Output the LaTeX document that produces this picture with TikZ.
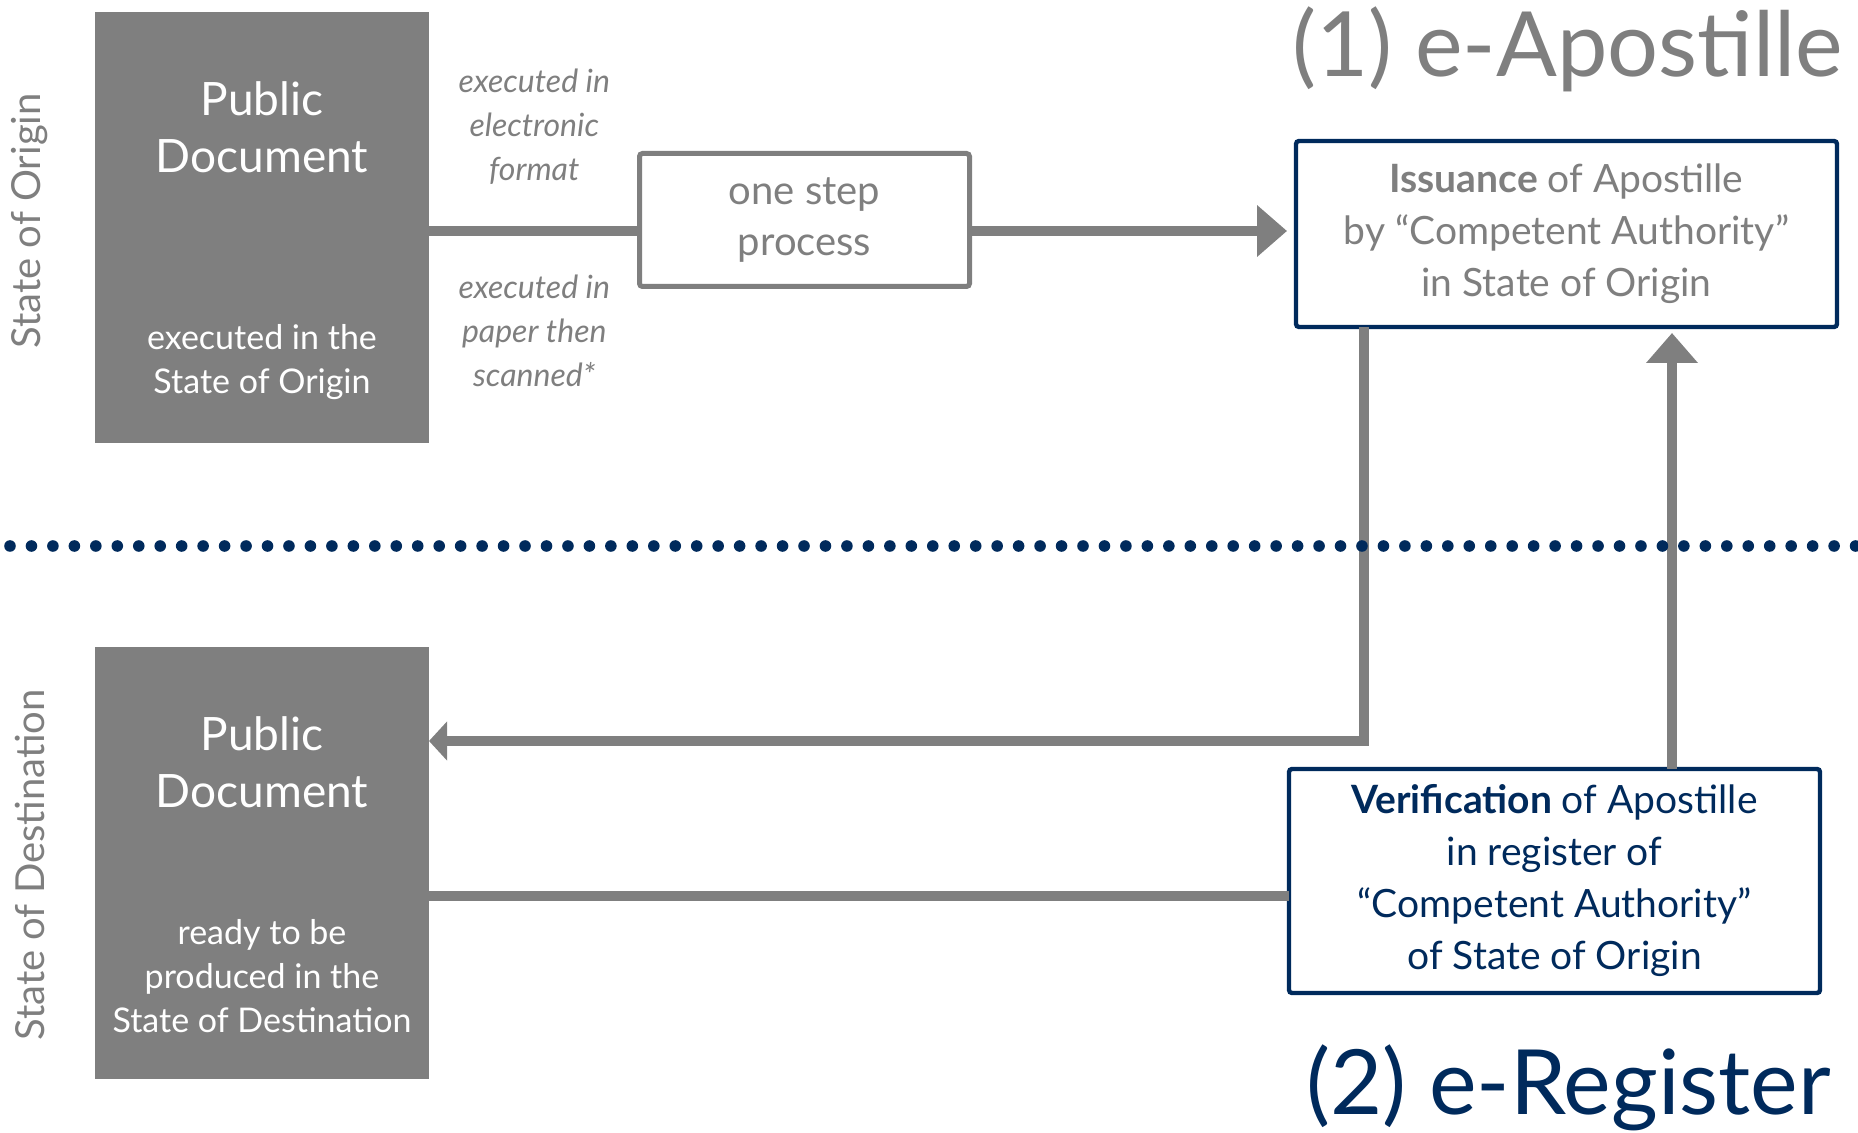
\documentclass[tikz,border=0pt]{standalone}
\usepackage{fontspec}
\setmainfont{Lato}
\usetikzlibrary{arrows.meta,positioning,calc}
\definecolor{docGray}{HTML}{7F7F7F}
\definecolor{regNavy}{HTML}{002A5C}

\begin{document}
\begin{tikzpicture}[
x=0.5pt, y=-0.5pt,
every node/.style={inner sep=0pt, outer sep=0pt},
docbox/.style={fill=docGray, minimum width=167pt, minimum height=215.5pt},
doctitle/.style={text=white, align=center, font=\fontsize{23}{28.5}\selectfont},
docnote/.style={text=white, align=center, font=\fontsize{17}{22}\selectfont},
sidelabel/.style={text=docGray, rotate=90, font=\fontsize{20}{24}\selectfont},
routelabel/.style={text=docGray, align=center, font=\fontsize{16}{22}\selectfont\itshape},
stepbox/.style={draw=docGray, fill=white, line width=2.5pt, rounded corners=1.5pt, text=docGray, align=center, minimum width=165pt, minimum height=66.5pt, font=\fontsize{20}{25.5}\selectfont},
authbox/.style={draw=regNavy, fill=white, line width=2.2pt, rounded corners=1.5pt, align=center, font=\fontsize{19.5}{26}\selectfont},
headline/.style={font=\fontsize{45}{50}\selectfont},
flow/.style={draw=docGray, line width=5pt},
bigarr/.style={flow, -{Triangle[length=15pt,width=25pt]}},
smallarr/.style={flow, -{Triangle[length=9pt,width=19pt]}}
]
\useasboundingbox (0,0) rectangle (1858,1133);

% State of Origin: public document and one step process
\node[sidelabel] (sideO) at (30,221) {State of Origin};
\node[docbox] (pubO) at (262,227.5) {};
\node[doctitle] (pubOtitle) at ($(pubO.north)+(0,115)$) {Public\\Document};
\node[docnote] (pubOnote) at ($(pubO.south)+(0,-81)$) {executed in the\\State of Origin};
\node[stepbox] (step) at (804.5,220) {one step\\process};
\node[routelabel] (routeE) at ($(pubO.east)!.5!(step.west)+(0,-97)$) {executed in\\electronic\\format};
\node[routelabel] (routeP) at ($(pubO.east)!.5!(step.west)+(0,107)$) {executed in\\paper then\\scanned*};

% (1) e-Apostille
\node[headline, text=docGray, anchor=base east] (titleE) at (1843,77) {(1) e-Apostille};
\node[authbox, text=docGray, minimum width=270.5pt, minimum height=93pt] (issue) at (1566.5,234) {\textbf{Issuance} of Apostille\\by ``Competent Authority''\\in State of Origin};

% State of Destination
\node[sidelabel] (sideD) at (30,865) {State of Destination};
\node[docbox] (pubD) at (262,863) {};
\node[doctitle] (pubDtitle) at ($(pubD.north)+(0,115)$) {Public\\Document};
\node[docnote] (pubDnote) at ($(pubD.south)+(0,-102)$) {ready to be\\produced in the\\State of Destination};

% (2) e-Register
\node[authbox, text=regNavy, minimum width=265.5pt, minimum height=112pt] (verify) at (1554.5,881) {\textbf{Verification} of Apostille\\in register of\\``Competent Authority''\\of State of Origin};
\node[headline, text=regNavy, anchor=base east] (titleR) at (1831,1114) {(2) e-Register};

% connectors
\coordinate (routeO) at ($(step.west)+(0,11)$);
\draw[flow] (pubO.east |- routeO) -- (routeO);
\draw[bigarr, shorten >=4.5pt] (step.east |- routeO) -- (issue.west |- routeO);

\coordinate (drop) at ($(issue.south west)+(68,0)$);
\coordinate (turn) at ($(drop)+(0,414)$);
\draw[smallarr] (drop) -- (turn) -- (pubD.east |- turn);

\coordinate (rise) at ($(verify.north west)+(383,0)$);
\draw[bigarr, shorten >=3pt] (rise) -- (rise |- issue.south);

\coordinate (verifyIn) at ($(verify.west)+(0,15)$);
\draw[flow] (pubD.east |- verifyIn) -- (verifyIn);

% dotted border between the two states
\coordinate (ruleL) at (10,546);
\coordinate (ruleR) at (1858,546);
\draw[regNavy, line width=5.8pt, line cap=round, dash pattern=on 0pt off 10.73pt] (ruleL) -- (ruleR);
\end{tikzpicture}
\end{document}
